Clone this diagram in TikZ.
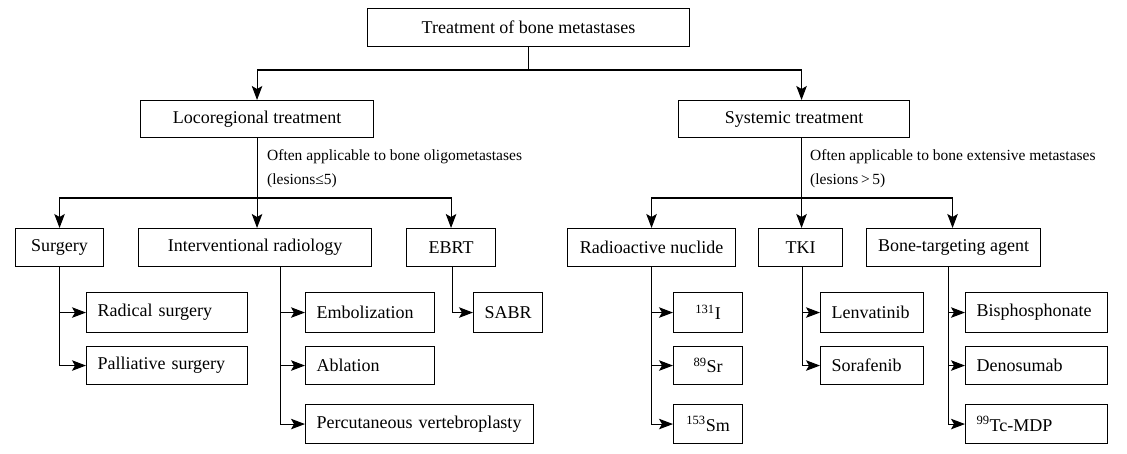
\documentclass[tikz,border=0pt]{standalone}
\usepackage{fontspec}
\setmainfont{Liberation Serif}
\usetikzlibrary{arrows.meta}
\begin{document}
\begin{tikzpicture}[x=1pt,y=-1pt,
  box/.style={draw, line width=1.1pt, inner sep=0pt, anchor=north west, font=\fontsize{18}{20}\selectfont, align=center},
  lbox/.style={box, align=left, inner xsep=11pt, text width=#1},
  arr/.style={-{Stealth[length=14pt,width=10.5pt,inset=3pt]}, line width=1.1pt},
  ln/.style={line width=1.1pt},
  lab/.style={font=\fontsize{15.5}{24}\selectfont, anchor=north west, align=left, inner sep=0pt}]
\useasboundingbox (0,0) rectangle (1127,454);
% level 0 and 1
\node[box, minimum width=322, minimum height=38] (top) at (367,8) {Treatment of bone metastases};
\node[box, minimum width=233, minimum height=37] (loco) at (140,100) {Locoregional treatment};
\node[box, minimum width=231, minimum height=37] (sys) at (678,100) {Systemic treatment};
% level 2
\node[box, minimum width=88, minimum height=38] (surg) at (15,228) {Surgery};
\node[box, minimum width=233, minimum height=38] (ir) at (138,228) {Interventional radiology};
\node[box, minimum width=89, minimum height=38] (ebrt) at (406,228) {EBRT};
\node[box, minimum width=168, minimum height=38] (rn) at (567,228) {Radioactive nuclide};
\node[box, minimum width=84, minimum height=38] (tki) at (758,228) {TKI};
\node[box, minimum width=174, minimum height=38] (bta) at (866,228) {Bone-targeting agent};
% level 3
\node[lbox=139, minimum height=40] (rad) at (86,292) {\mbox{Radical surgery}};
\node[lbox=139, minimum height=38] (pal) at (86,346) {\mbox{Palliative surgery}};
\node[lbox=107, minimum height=40] (emb) at (305,292) {\mbox{Embolization}};
\node[lbox=107, minimum height=38] (abl) at (305,346) {\mbox{Ablation}};
\node[lbox=206, minimum height=39] (pvp) at (305,404) {\mbox{Percutaneous vertebroplasty}};
\node[box, minimum width=69, minimum height=40] (sabr) at (473,292) {SABR};
\node[box, minimum width=69, minimum height=40] (iod) at (673,292) {\textsuperscript{131}I};
\node[box, minimum width=69, minimum height=38] (sr) at (673,346) {\textsuperscript{89}Sr};
\node[box, minimum width=69, minimum height=39] (sm) at (673,404) {\textsuperscript{153}Sm};
\node[lbox=81, minimum height=40] (len) at (820,292) {\mbox{Lenvatinib}};
\node[lbox=81, minimum height=38] (sor) at (820,346) {\mbox{Sorafenib}};
\node[lbox=120, minimum height=40] (bis) at (965,292) {\mbox{Bisphosphonate}};
\node[lbox=120, minimum height=38] (den) at (965,346) {\mbox{Denosumab}};
\node[lbox=120, minimum height=39] (tc) at (965,404) {\mbox{\textsuperscript{99}Tc-MDP}};
% labels
\node[lab] (l1) at (267,149) {Often applicable to bone oligometastases\\(lesions≤5)};
\node[lab] (l2) at (810,149) {Often applicable to bone extensive metastases\\(lesions\,>\,5)};
% connectors top
\coordinate (j0) at (top.south |- 0,70);
\draw[ln] (top.south) -- (j0);
\draw[arr] (j0) -| (loco.north);
\draw[arr] (j0) -| ([xshift=7.5]sys.north);
% locoregional branch
\coordinate (j1) at (loco.south |- 0,198);
\draw[ln] (loco.south) -- (j1);
\draw[arr] (j1) -| (surg.north);
\draw[arr] (j1) -- (j1 |- ir.north);
\draw[arr] (j1) -| (ebrt.north);
% systemic branch
\coordinate (s0) at ([xshift=7.5]sys.south);
\coordinate (j2) at (s0 |- 0,198);
\draw[ln] (s0) -- (j2);
\draw[arr] (j2) -| (rn.north);
\draw[arr] (j2) -- (j2 |- tki.north);
\draw[arr] (j2) -| ([xshift=-1]bta.north);
% level 3 connectors
\draw[arr] (surg.south) |- (rad.west);
\draw[arr] (surg.south) |- (pal.west);
\coordinate (irs) at ([xshift=25.5]ir.south);
\draw[arr] (irs) |- (emb.west);
\draw[arr] (irs) |- (abl.west);
\draw[arr] (irs) |- (pvp.west);
\draw[arr] ([xshift=1.5]ebrt.south) |- (sabr.west);
\draw[arr] (rn.south) |- (iod.west);
\draw[arr] (rn.south) |- (sr.west);
\draw[arr] (rn.south) |- (sm.west);
\draw[arr] ([xshift=1.5]tki.south) |- (len.west);
\draw[arr] ([xshift=1.5]tki.south) |- (sor.west);
\coordinate (btas) at ([xshift=-5.5]bta.south);
\draw[arr] (btas) |- (bis.west);
\draw[arr] (btas) |- (den.west);
\draw[arr] (btas) |- (tc.west);
\end{tikzpicture}
\end{document}
